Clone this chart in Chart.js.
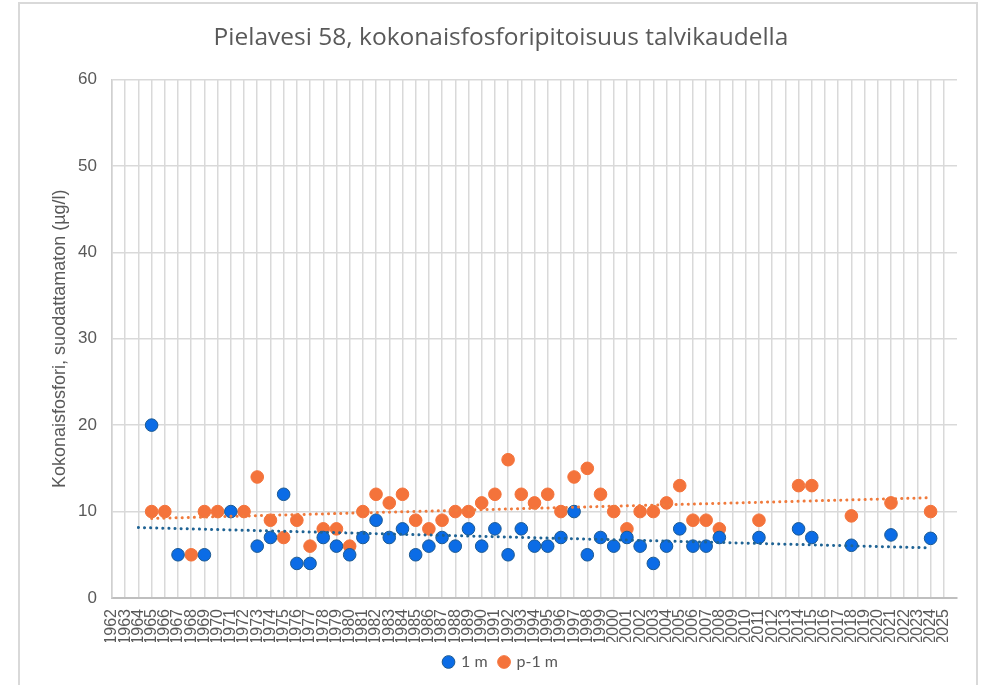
<!DOCTYPE html>
<html>
<head>
<meta charset="utf-8">
<script src="https://cdn.jsdelivr.net/npm/chart.js@4.4.1/dist/chart.umd.min.js"></script>
<style>
  html, body { margin: 0; padding: 0; background: #ffffff; width: 991px; height: 685px; overflow: hidden; }
  #frame { position: absolute; left: 18px; top: 2px; width: 960px; height: 720px; border: 2px solid #d9d9d9; box-sizing: border-box; }
  #wrap { position: absolute; left: 0; top: 0; width: 991px; height: 685px; }
</style>
</head>
<body>
<div id="frame"></div>
<div id="wrap"><canvas id="c" width="991" height="685"></canvas></div>
<script>
// ---- data ----
const chartTitle = 'Pielavesi 58, kokonaisfosforipitoisuus talvikaudella';
const yAxisTitle = 'Kokonaisfosfori, suodattamaton (µg/l)';
const seriesNames = ['1 m', 'p-1 m'];

const yearFirst = 1962;
const yearLast = 2025;
const yTicks = [0, 10, 20, 30, 40, 50, 60];

const years1m = [1965, 1967, 1969, 1971, 1973, 1974, 1975, 1976, 1977, 1978, 1979, 1980, 1981, 1982, 1983, 1984, 1985, 1986, 1987, 1988, 1989, 1990, 1991, 1992, 1993, 1994, 1995, 1996, 1997, 1998, 1999, 2000, 2001, 2002, 2003, 2004, 2005, 2006, 2007, 2008, 2011, 2014, 2015, 2018, 2021, 2024];
const values1m = [20, 5, 5, 10, 6, 7, 12, 4, 4, 7, 6, 5, 7, 9, 7, 8, 5, 6, 7, 6, 8, 6, 8, 5, 8, 6, 6, 7, 10, 5, 7, 6, 7, 6, 4, 6, 8, 6, 6, 7, 7, 8, 7, 6.1, 7.3, 6.9];

const yearsP1m = [1965, 1966, 1968, 1969, 1970, 1972, 1973, 1974, 1975, 1976, 1977, 1978, 1979, 1980, 1981, 1982, 1983, 1984, 1985, 1986, 1987, 1988, 1989, 1990, 1991, 1992, 1993, 1994, 1995, 1996, 1997, 1998, 1999, 2000, 2001, 2002, 2003, 2004, 2005, 2006, 2007, 2008, 2011, 2014, 2015, 2018, 2021, 2024];
const valuesP1m = [10, 10, 5, 10, 10, 10, 14, 9, 7, 9, 6, 8, 8, 6, 10, 12, 11, 12, 9, 8, 9, 10, 10, 11, 12, 16, 12, 11, 12, 10, 14, 15, 12, 10, 8, 10, 10, 11, 13, 9, 9, 8, 9, 13, 13, 9.5, 11, 10];

// trendline end points as seen in the reference
const trend1mYears = [1964, 2024];
const trend1mValues = [8.15, 5.8];
const trendP1mYears = [1965, 2024];
const trendP1mValues = [9.2, 11.6];

// ---- build ----
const toPoints = (xs, ys) => xs.map((x, i) => ({ x: x, y: ys[i] }));
const gray = '#595959';
const blue = '#0B6CE6';
const blueEdge = '#1D5A92';
const orange = '#F4733B';

new Chart(document.getElementById('c'), {
  type: 'scatter',
  data: {
    datasets: [
      {
        label: seriesNames[0],
        data: toPoints(years1m, values1m),
        backgroundColor: blue,
        borderColor: blueEdge,
        borderWidth: 1,
        pointRadius: 6.3,
        order: 1
      },
      {
        label: seriesNames[1],
        data: toPoints(yearsP1m, valuesP1m),
        backgroundColor: orange,
        borderColor: orange,
        borderWidth: 1,
        pointRadius: 6.3,
        order: 1
      },
      {
        type: 'line',
        label: 'trend1',
        data: toPoints(trend1mYears, trend1mValues),
        borderColor: '#1F6394',
        borderWidth: 3,
        borderDash: [0.1, 6],
        borderCapStyle: 'round',
        pointRadius: 0,
        fill: false,
        order: 0
      },
      {
        type: 'line',
        label: 'trend2',
        data: toPoints(trendP1mYears, trendP1mValues),
        borderColor: '#F07A3C',
        borderWidth: 3,
        borderDash: [0.1, 6],
        borderCapStyle: 'round',
        pointRadius: 0,
        fill: false,
        order: 0
      }
    ]
  },
  options: {
    responsive: false,
    animation: false,
    devicePixelRatio: 1,
    layout: { padding: { left: 45, right: 34, top: 0, bottom: 5 } },
    plugins: {
      tooltip: { enabled: false },
      title: {
        display: true,
        text: chartTitle,
        color: gray,
        font: { family: '"Open Sans", Lato, sans-serif', size: 24.5, weight: 'normal' },
        padding: { top: 23, bottom: 27 }
      },
      legend: {
        position: 'bottom',
        labels: {
          filter: (item) => item.datasetIndex < 2,
          usePointStyle: true,
          pointStyle: 'circle',
          boxWidth: 9,
          boxHeight: 9,
          padding: 12,
          color: gray,
          font: { family: 'Lato, "Open Sans", sans-serif', size: 16 }
        }
      }
    },
    scales: {
      x: {
        type: 'linear',
        min: yearFirst,
        max: yearLast + 1,
        afterFit: (s) => { s.height = 44; },
        afterBuildTicks: (s) => {
          const t = [];
          for (let y = yearFirst; y <= yearLast + 1; y++) t.push({ value: y });
          s.ticks = t;
        },
        ticks: {
          autoSkip: false,
          minRotation: 90,
          maxRotation: 90,
          padding: 11,
          color: gray,
          font: { family: '"Liberation Sans", Arial, sans-serif', size: 16 },
          callback: (v) => (v > yearLast ? '' : String(v))
        },
        grid: {
          drawTicks: false,
          lineWidth: 1.5,
          color: (ctx) => (ctx.tick && ctx.tick.value > yearLast ? 'rgba(0,0,0,0)' : '#d9d9d9')
        },
        border: { display: true, color: '#bfbfbf', width: 2 }
      },
      y: {
        min: 0,
        max: 60,
        afterFit: (s) => { s.width = 67; },
        afterBuildTicks: (s) => { s.ticks = yTicks.map((v) => ({ value: v })); },
        ticks: {
          padding: 15,
          color: gray,
          font: { family: '"Liberation Sans", Arial, sans-serif', size: 17 }
        },
        grid: { drawTicks: false, color: '#d9d9d9', lineWidth: 1.5 },
        border: { display: true, color: '#d0d0d0', width: 1.5 },
        title: {
          display: true,
          text: yAxisTitle,
          color: gray,
          padding: { top: 4, bottom: 0 },
          font: { family: '"Liberation Sans", Arial, sans-serif', size: 18 }
        }
      }
    }
  }
});
</script>
</body>
</html>
